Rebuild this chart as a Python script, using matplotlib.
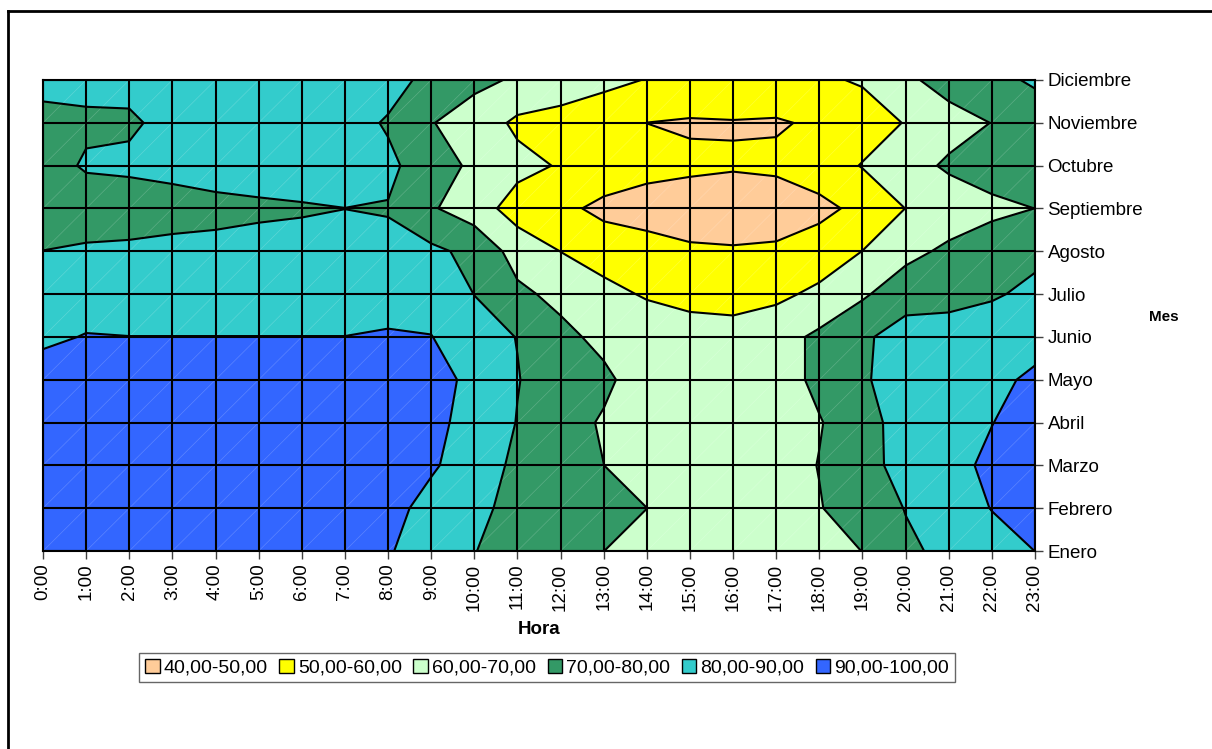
import numpy as np
import matplotlib
matplotlib.use('Agg')
import matplotlib.pyplot as plt
from matplotlib.patches import Patch
from matplotlib.lines import Line2D

plt.rcParams['font.family'] = ['Liberation Sans', 'DejaVu Sans']

horas = ['%d:00' % h for h in range(24)]
meses = ['Enero', 'Febrero', 'Marzo', 'Abril', 'Mayo', 'Junio', 'Julio',
         'Agosto', 'Septiembre', 'Octubre', 'Noviembre', 'Diciembre']

# humedad relativa (%) por hora (0:00..23:00) para cada mes
enero = [95, 95, 95, 95, 95, 95, 95, 95, 91, 84, 80.2, 77, 73, 70.05, 66, 65,
         65, 66, 67, 70.1, 78.5, 82, 86, 90.05]
febrero = [95, 95, 95, 95, 95, 95, 95, 95, 94, 86, 82, 77.5, 74, 72, 70.05, 65,
           65, 66, 69.5, 75, 80.3, 85, 90.3, 94]
marzo = [96, 96, 96, 96, 96, 96, 96, 96, 96, 91.5, 84, 78.4, 75, 70.05, 65, 64,
         64, 66, 70.3, 77, 83, 87, 92, 95]
abril = [96, 96, 96, 96, 96, 96, 96, 96, 96, 93, 86, 79.7, 74, 69, 64, 64,
         64, 66, 69.5, 75, 85.5, 86, 89.8, 94]
mayo = [95, 95, 95, 95, 95, 95, 95, 95, 95, 94.5, 87, 80.3, 76, 72, 65, 64,
        64, 66, 72, 78.5, 86, 87, 88, 91.5]
junio = [88, 90.5, 90.1, 90.1, 90.1, 90.1, 90.1, 90.1, 91.2, 90.3, 83, 79.8,
         72.5, 67.5, 64.5, 63.5, 63, 66, 72, 78.5, 84, 84, 85, 87]
julio = [84, 85, 85, 85, 85, 85, 85, 85, 85, 85, 79.9, 72, 67.5, 62, 59.3, 57.5,
         57, 58, 62, 68.6, 76, 77, 79, 82]
agosto = [80.1, 81, 82, 82.7, 82.5, 82.8, 82.6, 83, 82, 82, 77.5, 66, 59.9, 57,
          55, 51.3, 50.7, 51.8, 54.6, 60.1, 67, 72, 77, 78]
septiembre = [75, 76, 74.5, 76, 77.5, 78.6, 79.3, 79.95, 79.5, 71, 65, 55.5, 53,
              47, 44.5, 45.2, 45.7, 44, 47.5, 52.5, 60.1, 64, 67, 70.05]
octubre = [77, 80.8, 82, 83, 84, 84, 84, 84, 82, 75, 68, 63, 59.2, 57.7, 54,
           51.7, 50.7, 52, 55, 60.5, 66, 71.5, 76, 77]
noviembre = [78, 78.8, 78.5, 83, 84, 84, 84, 84, 79, 70.4, 66, 58, 56, 55, 49.95,
             49, 49.5, 49, 51.5, 55, 60.5, 66, 70.2, 76]
diciembre = [82, 82, 83, 84, 84, 85, 85, 85, 84, 77, 72, 69, 66, 62, 59.7, 58,
             57, 57.5, 58.5, 61, 68, 74, 78, 81]

niveles = [40, 50, 60, 70, 80, 90, 100]
etiquetas = ['40,00-50,00', '50,00-60,00', '60,00-70,00', '70,00-80,00',
             '80,00-90,00', '90,00-100,00']
colores = ['#FFCC99', '#FFFF00', '#CCFFCC', '#339966', '#33CCCC', '#3366FF']

Z = np.array([enero, febrero, marzo, abril, mayo, junio, julio, agosto,
              septiembre, octubre, noviembre, diciembre])
x = np.arange(len(horas))
y = np.arange(len(meses))

fig = plt.figure(figsize=(12.12, 7.49), dpi=100)
ax = fig.add_axes([43 / 1212, 1 - 551 / 749, (1035 - 43) / 1212, (551 - 80) / 749])

ax.contourf(x, y, Z, levels=niveles, colors=colores)

# diagonales tenues de la malla
for i in x[:-1]:
    for j in y[:-1]:
        ax.plot([i, i + 1], [j, j + 1], color='white', lw=0.5, alpha=0.2)

ax.contour(x, y, Z, levels=niveles[1:-1], colors='black', linewidths=1.5)

for i in x:
    ax.axvline(i, color='black', lw=1.5)
for j in y:
    ax.axhline(j, color='black', lw=1.5)

ax.set_xlim(0, 23)
ax.set_ylim(0, 11)
ax.set_xticks(x)
ax.set_xticklabels(horas, rotation=90, fontsize=13.5)
ax.yaxis.tick_right()
ax.set_yticks(y)
ax.set_yticklabels(meses, fontsize=13.5)
ax.tick_params(axis='both', direction='out', length=6, width=1, color='#404040', pad=3)
for s in ax.spines.values():
    s.set_linewidth(1.5)

fig.text(539 / 1212, 1 - 630 / 749, 'Hora', ha='center', va='center',
         fontsize=13.5, fontweight='bold')
fig.text(1164 / 1212, 1 - 317 / 749, 'Mes', ha='center', va='center',
         fontsize=11, fontweight='bold')

handles = [Patch(facecolor=c, edgecolor='black', label=l) for c, l in zip(colores, etiquetas)]
leg = fig.legend(handles=handles, loc='center', bbox_to_anchor=(547 / 1212, 1 - 667.5 / 749),
                 ncol=6, fontsize=14, frameon=True, fancybox=False,
                 handlelength=0.75, handleheight=0.75, handletextpad=0.2,
                 columnspacing=0.6, borderpad=0.3)
leg.get_frame().set_edgecolor('#404040')
leg.get_frame().set_linewidth(1)

# borde exterior del grafico (izquierda y arriba)
bx = 7.5 / 1212
by = 1 - 11 / 749
fig.add_artist(Line2D([bx, bx], [0, by], transform=fig.transFigure, color='black', lw=2))
fig.add_artist(Line2D([bx, 1], [by, by], transform=fig.transFigure, color='black', lw=2))

plt.savefig('out.png', dpi=100)
